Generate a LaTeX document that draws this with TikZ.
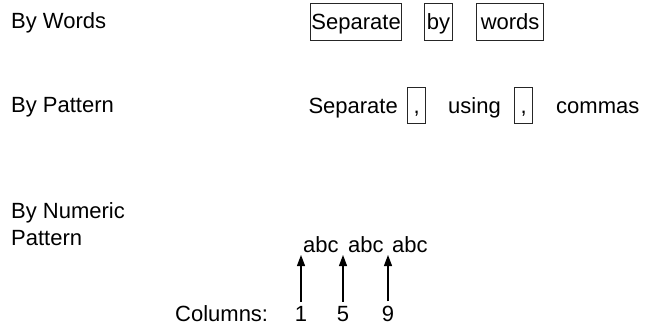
\documentclass[tikz,border=0pt]{standalone}
\usepackage{fontspec}
\setmainfont{Liberation Sans}
\usetikzlibrary{arrows.meta}
\begin{document}
\begin{tikzpicture}[x=1pt,y=-1pt,
  lbl/.style={anchor=base west,inner sep=0pt,font=\fontsize{22}{26}\selectfont},
  wbox/.style={draw=black!85,line width=1.2pt,inner sep=0pt,minimum height=37pt,anchor=north west,
    text height=17pt,text depth=3pt,font=\fontsize{22}{26}\selectfont},
  cbox/.style={draw=black!85,line width=1.2pt,inner sep=0pt,minimum height=36pt,minimum width=18pt,anchor=north west,
    text height=19pt,text depth=3pt,font=\fontsize{22}{26}\selectfont},
  colarrow/.style={line width=1.2pt,-{Triangle[length=11pt,width=8pt]}}]
\useasboundingbox (0,0) rectangle (645,326);
% row 1
\node[lbl] (bywords) at (11,29) {By Words};
\node[wbox,minimum width=91pt] (wsep) at (310,3) {Separate};
\node[wbox,minimum width=28pt] (wby) at (424,3) {by};
\node[wbox,minimum width=67pt] (wwords) at (476,3) {words};
% row 2
\node[lbl] (bypat) at (11,113) {By Pattern};
\node[lbl,anchor=base east] (psep) at (398,114) {Separate};
\node[cbox] (c1) at (407,87) {,};
\node[lbl] (pusing) at (448,114) {using};
\node[cbox] (c2) at (514,87) {,};
\node[lbl] (pcommas) at (556,114) {commas};
% row 3
\node[lbl] (bynum) at (11,218) {By Numeric};
\node[lbl] (bynum2) at (11,245) {Pattern};
\node[lbl] (a1) at (303,252) {abc};
\node[lbl] (a2) at (348,252) {abc};
\node[lbl] (a3) at (392,252) {abc};
\node[lbl] (cols) at (175,321) {Columns:};
\node[lbl,anchor=base,inner ysep=4pt] (n1) at (301,321) {1};
\node[lbl,anchor=base,inner ysep=4pt] (n5) at (343,321) {5};
\node[lbl,anchor=base,inner ysep=4pt] (n9) at (388,321) {9};
\coordinate (t1) at (301,255);
\coordinate (t5) at (343,255);
\coordinate (t9) at (388,255);
\draw[colarrow] (n1.north) -- (t1);
\draw[colarrow] (n5.north) -- (t5);
\draw[colarrow] (n9.north) -- (t9);
\end{tikzpicture}
\end{document}
